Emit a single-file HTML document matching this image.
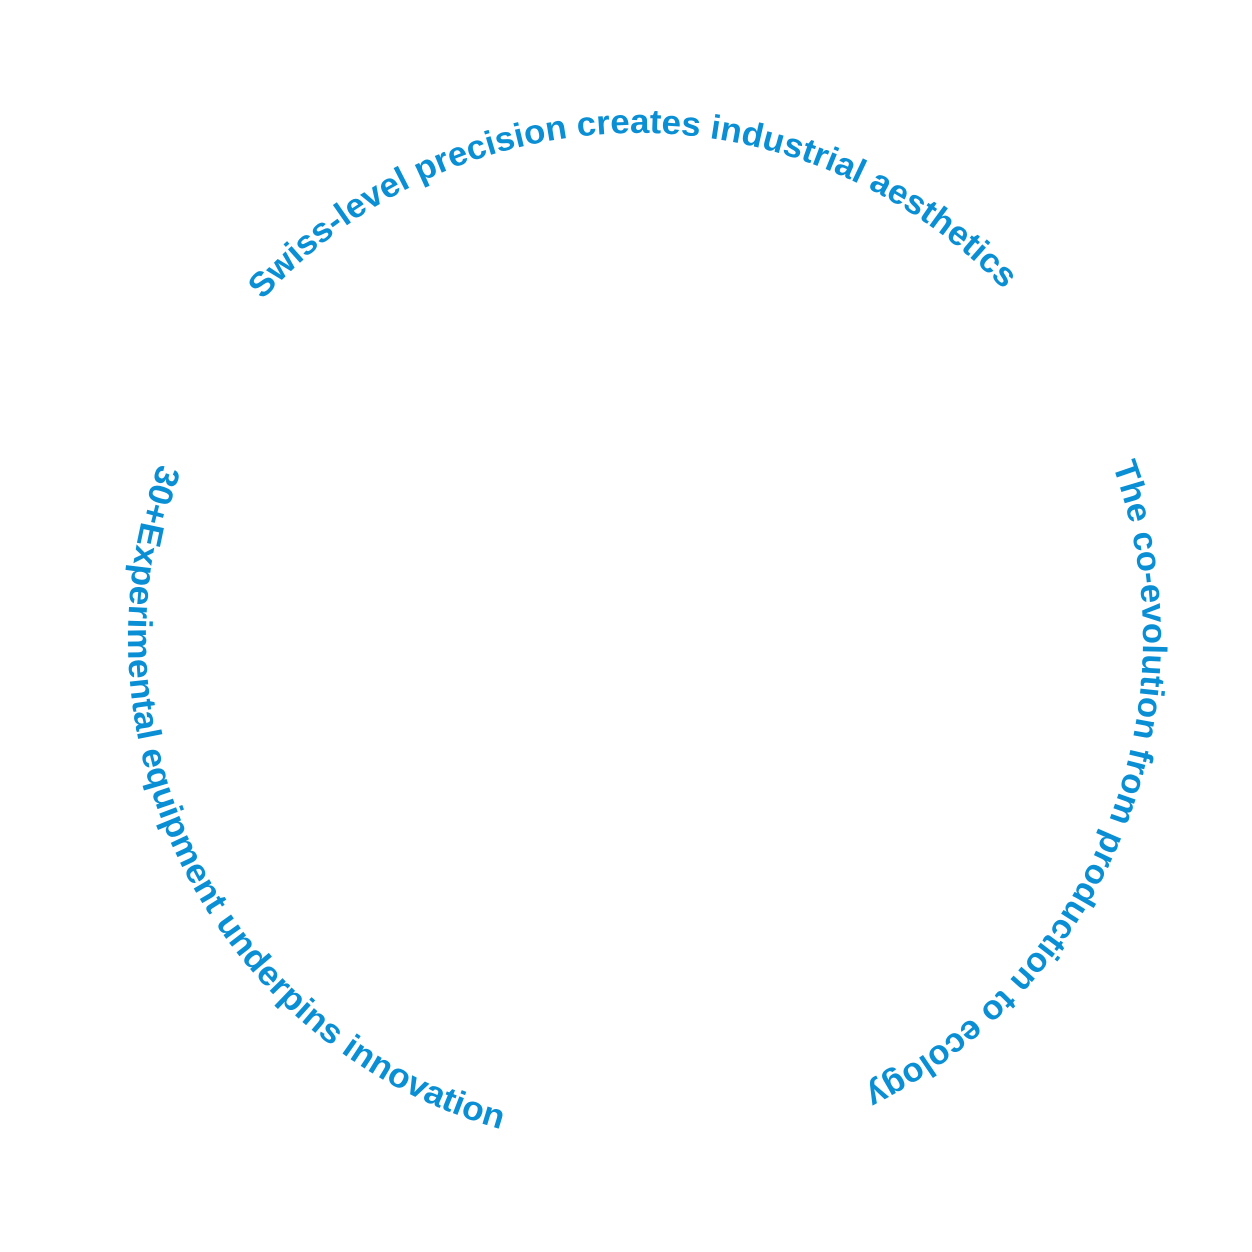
<!DOCTYPE html>
<html><head><meta charset="utf-8"><style>
html,body{margin:0;padding:0;background:#fff;}
svg{display:block;}
text{font-family:"Liberation Sans",sans-serif;font-weight:bold;font-size:34px;fill:#0a8fd4;}
</style></head><body>
<svg width="1252" height="1252" viewBox="0 0 1252 1252" xmlns="http://www.w3.org/2000/svg">
<defs>
<path id="pTop" d="M262.7,300.1 A505,505 0 0 1 1007.4,293.6"/>
<path id="pRight" d="M1112.5,465.3 A505,505 0 0 1 859.4,1091.9"/>
<path id="pLeft" d="M158.8,463.6 A510,510 0 0 0 506.0,1130.6"/>
</defs>
<text><textPath href="#pTop" textLength="832" lengthAdjust="spacingAndGlyphs">Swiss-level precision creates industrial aesthetics</textPath></text>
<text><textPath href="#pRight" textLength="735" lengthAdjust="spacingAndGlyphs">The co-evolution from production to ecology</textPath></text>
<text><textPath href="#pLeft" textLength="840" lengthAdjust="spacingAndGlyphs">30+Experimental equipment underpins innovation</textPath></text>
</svg>
</body></html>
